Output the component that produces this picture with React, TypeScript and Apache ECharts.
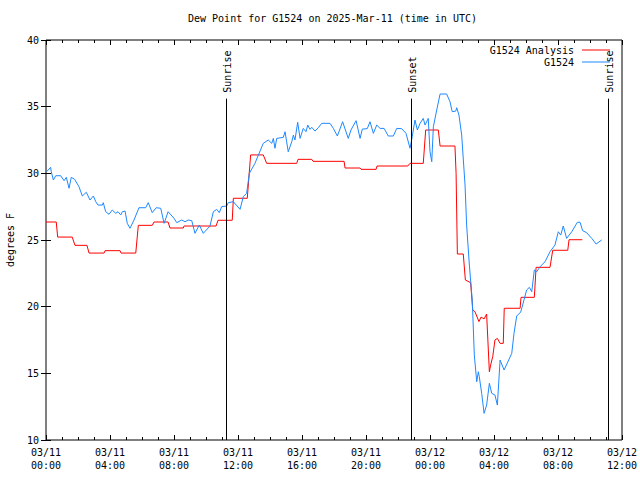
import React, { useEffect, useRef } from "react";
import * as echarts from "echarts";

// Time is in hours since 2025-03-11 00:00 UTC
const titleText = "Dew Point for G1524 on 2025-Mar-11 (time in UTC)";
const yAxisName = "degrees F";
const analysisName = "G1524 Analysis";
const obsName = "G1524";

const obsHours = [
  0.04, 0.29, 0.33, 0.46, 0.61, 0.92, 1.13, 1.27, 1.44, 1.58, 1.79, 2.06, 2.27, 2.52, 2.75, 2.96,
  3.11, 3.25, 3.52, 3.58, 3.73, 3.94, 4.14, 4.36, 4.5, 4.67, 4.77, 4.94, 5.08, 5.25, 5.5, 5.81,
  6.23, 6.39, 6.64, 6.89, 7.17, 7.38, 7.63, 8.0, 8.17, 8.48, 8.69, 8.89, 9.11, 9.31, 9.58, 9.83,
  10.25, 10.46, 10.67, 10.83, 10.98, 11.29, 11.39, 11.71, 12.13, 12.33, 12.54, 12.71, 13.06, 13.58,
  13.89, 14.11, 14.21, 14.31, 14.42, 14.83, 14.94, 15.14, 15.36, 15.46, 15.56, 15.73, 15.88, 16.08,
  16.25, 16.36, 16.5, 16.61, 16.81, 17.02, 17.23, 17.75, 17.96, 18.21, 18.54, 18.89, 19.06, 19.38,
  19.63, 19.77, 20.08, 20.25, 20.46, 20.67, 20.88, 21.13, 21.39, 21.71, 21.92, 22.23, 22.5, 22.75,
  22.89, 23.06, 23.21, 23.38, 23.58, 23.69, 23.89, 24.0, 24.11, 24.21, 24.42, 24.63, 25.04, 25.25,
  25.39, 25.61, 25.67, 25.81, 25.98, 26.19, 26.29, 26.46, 26.64, 26.77, 26.92, 27.02, 27.08, 27.23,
  27.38, 27.54, 27.71, 27.86, 28.06, 28.21, 28.38, 28.63, 29.11, 29.25, 29.42, 29.67, 29.79, 30.04,
  30.21, 30.36, 30.52, 30.67, 30.88, 31.19, 31.5, 31.81, 32.02, 32.17, 32.33, 32.54, 32.86, 33.21,
  33.38, 33.54, 33.79, 34.11, 34.38, 34.73,
];
const obsValues = [
  30.12, 30.45, 30.12, 29.5, 29.82, 29.82, 29.45, 29.7, 28.88, 29.7, 29.55, 29.0, 28.3, 28.58, 28.0, 28.3,
  27.87, 27.62, 27.62, 27.8, 27.12, 26.93, 27.25, 27.0, 27.12, 26.88, 27.12, 27.17, 26.25, 25.88, 26.5, 27.42,
  27.42, 27.8, 27.05, 27.42, 27.38, 26.25, 27.12, 26.63, 26.3, 26.5, 26.37, 26.5, 26.45, 25.5, 26.12, 25.5,
  26.05, 27.12, 27.3, 27.05, 27.5, 27.55, 27.8, 27.87, 27.3, 28.25, 28.5, 30.0, 30.75, 32.25,
  32.5, 32.25, 32.62, 31.88, 32.62, 32.7, 33.12, 31.62, 32.37, 32.87, 32.5, 33.83, 32.62, 33.37,
  33.12, 33.62, 33.3, 33.45, 33.17, 33.42, 33.75, 33.75, 33.37, 32.8, 33.87, 32.62, 33.25, 33.95,
  32.62, 33.32, 33.35, 33.87, 33.0, 33.62, 33.37, 33.37, 32.8, 32.8, 33.37, 33.35, 33.0, 31.88,
  32.75, 34.0, 33.25, 33.75, 34.12, 33.62, 34.12, 31.62, 30.87, 33.5, 34.75, 35.95, 35.95, 35.37,
  34.62, 34.67, 34.92, 34.37, 32.87, 29.12, 26.12, 23.12, 20.5, 16.37, 14.37, 15.12, 14.75, 13.5,
  12.0, 12.62, 14.25, 13.5, 13.37, 12.62, 16.0, 15.25, 16.5, 18.0, 19.3, 19.6, 20.12, 21.25,
  21.45, 21.12, 22.75, 22.62, 23.0, 23.37, 24.12, 24.62, 25.62, 25.37, 26.05, 25.12, 25.62, 26.33,
  26.33, 25.7, 25.55, 25.12, 24.7, 25.0,
];

const anaHours = [
  0, 0.64, 0.73, 1.64, 1.81, 2.56, 2.69, 3.63, 3.69, 4.63, 4.69, 5.61, 5.77, 6.64, 6.75, 7.63,
  7.75, 8.58, 8.63, 10.63, 10.75, 11.64, 11.71, 12.58, 12.79, 13.58, 13.79, 15.67, 15.75, 16.61,
  16.69, 18.63, 18.69, 19.63, 19.69, 20.63, 20.69, 22.61, 22.75, 23.58, 23.73, 24.52, 24.63, 25.56,
  25.63, 25.71, 26.08, 26.21, 26.54, 26.67, 26.81, 27.06, 27.19, 27.38, 27.54, 27.71, 27.79, 27.92,
  28.06, 28.21, 28.38, 28.58, 28.64, 29.63, 29.69, 30.52, 30.63, 31.5, 31.67, 32.61, 32.69, 33.52,
];
const anaValues = [
  26.35, 26.35, 25.22, 25.22, 24.6, 24.6, 24.02, 24.02, 24.2, 24.2, 24.02, 24.02, 26.1, 26.1, 26.35, 26.35,
  25.9, 25.9, 26.05, 26.05, 26.48, 26.48, 28.13, 28.13, 31.38, 31.38, 30.75, 30.75, 31.05, 31.05,
  30.9, 30.9, 30.4, 30.4, 30.3, 30.3, 30.55, 30.55, 30.75, 30.75, 33.25, 33.25, 32.05, 32.05,
  30.0, 23.95, 23.95, 22.0, 21.8, 19.75, 19.62, 18.88, 19.22, 19.08, 19.45, 15.12, 15.62, 16.25,
  17.5, 17.62, 17.25, 17.25, 19.88, 19.88, 20.7, 20.7, 22.95, 22.95, 24.23, 24.23, 25.02, 25.02,
];

const sunLabels = ["Sunrise", "Sunset", "Sunrise"];
const sunHours = [11.25, 22.82, 35.15];
const sunLineTop = 35.6;

const X_MIN = 0;
const X_MAX = 36;
const X_STEP = 4;
const Y_MIN = 10;
const Y_MAX = 40;
const Y_STEP = 5;

const FONT = "DejaVu Sans Mono";
const RED = "#ff0000";
const BLUE = "#1e88ff";

function fmtTime(h: number): string {
  const day = 11 + Math.floor(h / 24);
  const hh = Math.round(h % 24);
  return `03/${day}\n${String(hh).padStart(2, "0")}:00`;
}

export default function App() {
  const ref = useRef<HTMLDivElement>(null);

  useEffect(() => {
    if (!ref.current) return;
    const chart = echarts.init(ref.current, null, { renderer: "svg" });

    const tickStyle = { color: "#000", width: 1 };
    const baseX = {
      type: "value" as const,
      min: X_MIN,
      max: X_MAX,
      interval: X_STEP,
      axisLine: { show: false },
      axisTick: { show: true, inside: true, length: 5, lineStyle: tickStyle },
      minorTick: { show: true, splitNumber: 4, length: 3, lineStyle: tickStyle },
      splitLine: { show: false },
      minorSplitLine: { show: false },
    };
    const baseY = {
      type: "value" as const,
      min: Y_MIN,
      max: Y_MAX,
      interval: Y_STEP,
      axisLine: { show: false },
      axisTick: { show: true, inside: true, length: 5, lineStyle: tickStyle },
      splitLine: { show: false },
    };

    const option: any = {
      animation: false,
      backgroundColor: "#fff",
      title: {
        text: titleText,
        left: 183,
        top: 8,
        textStyle: { fontFamily: FONT, fontSize: 10, fontWeight: "normal", color: "#000" },
      },
      grid: {
        left: 46,
        right: 18,
        top: 40,
        bottom: 40,
        containLabel: false,
        outerBoundsMode: "none",
        show: true,
        borderColor: "#000",
        borderWidth: 1,
        backgroundColor: "transparent",
      },
      xAxis: [
        {
          ...baseX,
          position: "bottom",
          axisLabel: {
            formatter: (v: number) => fmtTime(v),
            fontFamily: FONT,
            fontSize: 10,
            color: "#000",
            margin: 6,
            lineHeight: 13,
          },
        },
        { ...baseX, position: "top", axisLabel: { show: false } },
      ],
      yAxis: [
        {
          ...baseY,
          position: "left",
          name: yAxisName,
          nameLocation: "middle",
          nameRotate: 90,
          nameGap: 31,
          nameTextStyle: { fontFamily: FONT, fontSize: 10, color: "#000" },
          axisLabel: { fontFamily: FONT, fontSize: 10, color: "#000", margin: 7 },
        },
        { ...baseY, position: "right", axisLabel: { show: false } },
      ],
      series: [
        {
          name: analysisName,
          type: "line",
          data: anaHours.map((h, i) => [h, anaValues[i]]),
          showSymbol: false,
          symbol: "none",
          lineStyle: { color: RED, width: 1 },
          itemStyle: { color: RED },
          z: 3,
          markLine: {
            silent: true,
            symbol: ["none", "none"],
            label: { show: false },
            lineStyle: { color: "#000", width: 1, type: "solid" },
            data: sunHours.map((h) => [{ coord: [h, sunLineTop] }, { coord: [h, Y_MIN] }]),
          },
        },
        {
          name: obsName,
          type: "line",
          data: obsHours.map((h, i) => [h, obsValues[i]]),
          showSymbol: false,
          symbol: "none",
          lineStyle: { color: BLUE, width: 1 },
          itemStyle: { color: BLUE },
          z: 4,
        },
      ],
    };

    chart.setOption(option);

    const graphics: any[] = [];
    sunHours.forEach((h, i) => {
      const p = chart.convertToPixel({ xAxisIndex: 0, yAxisIndex: 0 }, [h, sunLineTop]) as number[];
      graphics.push({
        type: "text",
        x: p[0] + 1,
        y: p[1] - 6,
        rotation: Math.PI / 2,
        style: {
          text: sunLabels[i],
          fontFamily: FONT,
          fontSize: 10,
          fill: "#000",
          textAlign: "left",
          textVerticalAlign: "middle",
        },
      });
    });

    const legendItems = [
      { name: analysisName, color: RED, y: 50 },
      { name: obsName, color: BLUE, y: 62 },
    ];
    legendItems.forEach((it) => {
      graphics.push({
        type: "text",
        x: 574,
        y: it.y,
        style: {
          text: it.name,
          fontFamily: FONT,
          fontSize: 10,
          fill: "#000",
          textAlign: "right",
          textVerticalAlign: "middle",
        },
      });
      graphics.push({
        type: "line",
        shape: { x1: 582, y1: it.y, x2: 610, y2: it.y },
        style: { stroke: it.color, lineWidth: 1 },
      });
    });

    chart.setOption({ graphic: graphics });

    return () => {
      chart.dispose();
    };
  }, []);

  return (
    <div
      ref={ref}
      style={{ position: "absolute", left: 0, top: 0, width: 640, height: 480, background: "#fff" }}
    />
  );
}
